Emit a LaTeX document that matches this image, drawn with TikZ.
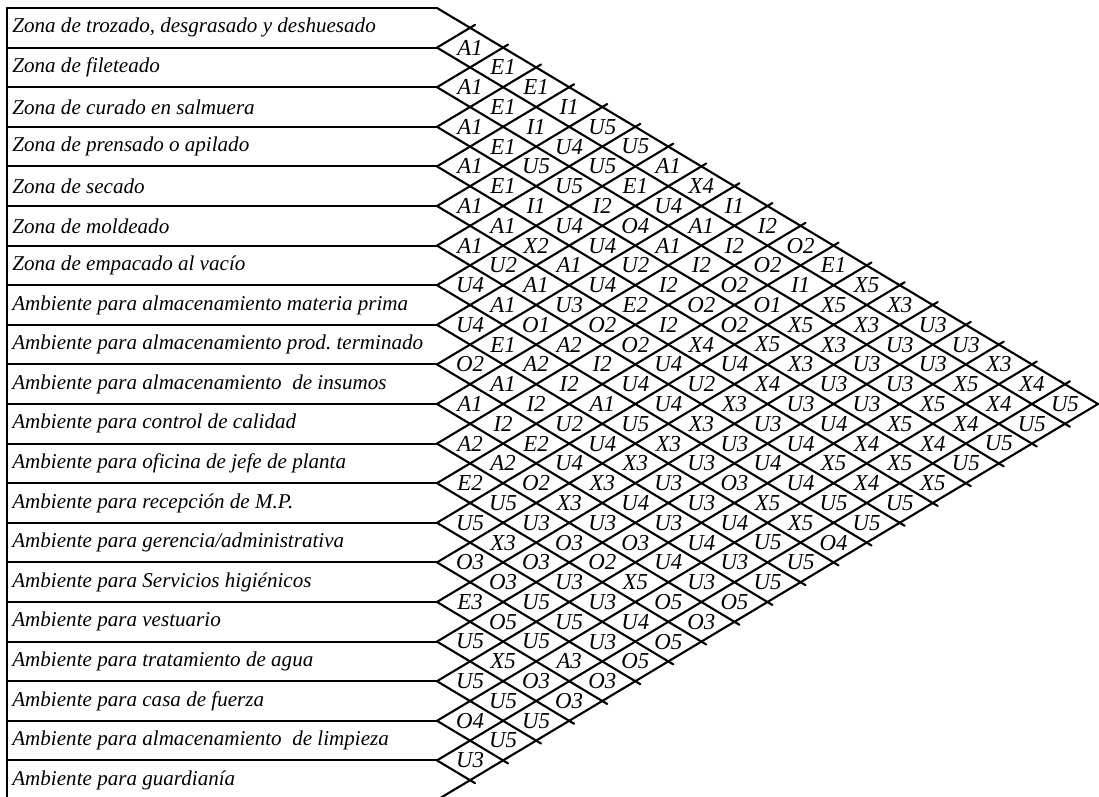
\documentclass[tikz,border=0pt]{standalone}
\usepackage{fontspec}
\setmainfont{Liberation Serif}
\begin{document}
\begin{tikzpicture}[x=0.02cm, y=-0.02cm,
	rowtext/.style={anchor=west, inner sep=0pt, font=\fontsize{12}{12}\selectfont\itshape},
	celltext/.style={inner sep=0pt, font=\fontsize{13}{13}\selectfont\itshape},
	gridline/.style={line width=1.2pt, line cap=round}]
	
	\useasboundingbox (0,0) rectangle (1099,797);
	\def\xo{437}
	\def\dx{33.05}
	\def\h{39.6}
	
	% tabla de actividades
	\draw[gridline] (7,8) -- (7,800);
	\foreach \k in {0,...,20}
		\draw[gridline] (7,8+\h*\k) -- (\xo,8+\h*\k);
	
	% borde del triangulo
	\draw[gridline] (\xo,8) -- ++({20*\dx},{10*\h});
	\draw[gridline] (\xo,8+20*\h) -- ++({20*\dx},{-10*\h});
	% rombos
	\foreach \k in {1,...,19} {
		\draw[gridline] (\xo,8+\h*\k) -- ++({(20.15-\k)*\dx},{(20.15-\k)*\h/2});
		\draw[gridline] (\xo,8+\h*\k) -- ++({(\k+0.15)*\dx},{-(\k+0.15)*\h/2});
	}
	
	% actividades
	\foreach \n/\t in {
		1/{Zona de trozado, desgrasado y deshuesado},
		2/{Zona de fileteado},
		3/{Zona de curado en salmuera},
		4/{Zona de prensado o apilado},
		5/{Zona de secado},
		6/{Zona de moldeado},
		7/{Zona de empacado al vacío},
		8/{Ambiente para almacenamiento materia prima},
		9/{Ambiente para almacenamiento prod.\ terminado},
		10/{Ambiente para almacenamiento~ de insumos},
		11/{Ambiente para control de calidad},
		12/{Ambiente para oficina de jefe de planta},
		13/{Ambiente para recepción de M.P.},
		14/{Ambiente para gerencia/administrativa},
		15/{Ambiente para Servicios higiénicos},
		16/{Ambiente para vestuario},
		17/{Ambiente para tratamiento de agua},
		18/{Ambiente para casa de fuerza},
		19/{Ambiente para almacenamiento~ de limpieza},
		20/{Ambiente para guardianía}}
		\node[rowtext] (r\n) at (12,8+\h*\n-\h/2) {\t};
	
	% relaciones (fila i, columna i+d)
	\foreach \i/\codes in {
		1/{A1,E1,E1,I1,U5,U5,A1,X4,I1,I2,O2,E1,X5,X3,U3,U3,X3,X4,U5},
		2/{A1,E1,I1,U4,U5,E1,U4,A1,I2,O2,I1,X5,X3,U3,U3,X5,X4,U5},
		3/{A1,E1,U5,U5,I2,O4,A1,I2,O2,O1,X5,X3,U3,U3,X5,X4,U5},
		4/{A1,E1,I1,U4,U4,U2,I2,O2,O2,X5,X3,U3,U3,X5,X4,U5},
		5/{A1,A1,X2,A1,U4,E2,I2,X4,U4,X4,U3,U4,X4,X5,X5},
		6/{A1,U2,A1,U3,O2,O2,U4,U2,X3,U3,U4,X5,X4,U5},
		7/{U4,A1,O1,A2,I2,U4,U4,X3,U3,U4,U4,U5,U5},
		8/{U4,E1,A2,I2,A1,U5,X3,U3,O3,X5,X5,O4},
		9/{O2,A1,I2,U2,U4,X3,U3,U3,U4,U5,U5},
		10/{A1,I2,E2,U4,X3,U4,U3,U4,U3,U5},
		11/{A2,A2,O2,X3,U3,O3,U4,U3,O5},
		12/{E2,U5,U3,O3,O2,X5,O5,O3},
		13/{U5,X3,O3,U3,U3,U4,O5},
		14/{O3,O3,U5,U5,U3,O5},
		15/{E3,O5,U5,A3,O3},
		16/{U5,X5,O3,O3},
		17/{U5,U5,U5},
		18/{O4,U5},
		19/{U3}}
		\foreach \c [count=\d] in \codes
			\node[celltext] (c\i-\d) at ({\xo+\d*\dx},{8+\h*(\i-0.5)+\d*\h/2}) {\c};
	
\end{tikzpicture}
\end{document}
